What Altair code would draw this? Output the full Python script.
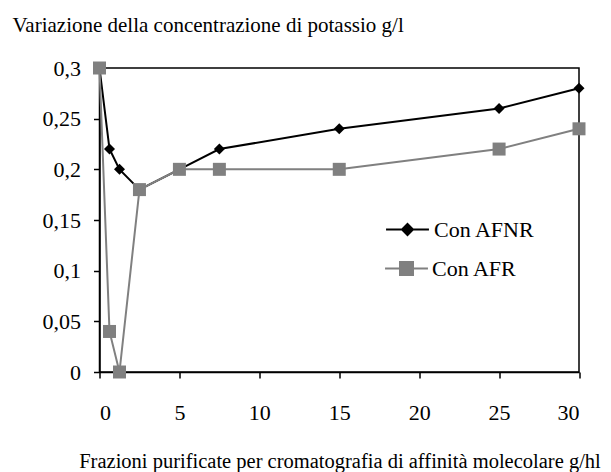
import altair as alt
import pandas as pd

x_vals = [0, 0.625, 1.25, 2.5, 5, 7.5, 15, 25, 30]
afnr = [0.30, 0.22, 0.20, 0.18, 0.20, 0.22, 0.24, 0.26, 0.28]
afr = [0.30, 0.04, 0.00, 0.18, 0.20, 0.20, 0.20, 0.22, 0.24]
series_names = ["Con AFNR", "Con AFR"]
x_ticks = [0, 5, 10, 15, 20, 25, 30]
y_ticks = [0, 0.05, 0.1, 0.15, 0.2, 0.25, 0.3]

FONT = "Liberation Serif"
BLACK = "#000000"
GRAY = "#808080"

df_a = pd.DataFrame({"x": x_vals, "y": afnr, "serie": series_names[0]})
df_b = pd.DataFrame({"x": x_vals, "y": afr, "serie": series_names[1]})

xenc = alt.X(
    "x:Q",
    scale=alt.Scale(domain=[0, 30], nice=False, zero=False),
    axis=alt.Axis(
        values=x_ticks,
        title="Frazioni purificate per cromatografia di affinità molecolare g/hl",
        titleX=240, titleY=95, titleAlign="center", titleBaseline="alphabetic",
        titleFontSize=20.5, titleFont=FONT,
        labelFont=FONT, labelFontSize=22,
        labelPadding=24,
    ),
)
yenc = alt.Y(
    "y:Q",
    scale=alt.Scale(domain=[0, 0.3], nice=False),
    axis=alt.Axis(
        values=y_ticks,
        labelExpr="replace(format(datum.value, '~g'), '.', ',')",
        title="Variazione della concentrazione di potassio g/l",
        titleAngle=0, titleX=-87.5, titleY=-37,
        titleAlign="left", titleBaseline="alphabetic",
        titleFontSize=21, titleFont=FONT,
        labelFont=FONT, labelFontSize=22,
        labelPadding=13,
    ),
)

line_a = alt.Chart(df_a).mark_line(color=BLACK, strokeWidth=2, clip=False).encode(x=xenc, y=yenc)
line_b = alt.Chart(df_b).mark_line(color=GRAY, strokeWidth=2, clip=False).encode(x=xenc, y=yenc)

pt_a = alt.Chart(df_a).mark_point(shape="diamond", filled=True, size=121, opacity=1, clip=False).encode(
    x=xenc, y=yenc,
    color=alt.Color(
        "serie:N",
        scale=alt.Scale(domain=[series_names[0]], range=[BLACK]),
        legend=alt.Legend(
            title=None, orient="none", legendX=297, legendY=150.5, padding=0,
            symbolType="M-3.9,0H3.9M0,-1L1,0L0,1L-1,0Z", symbolSize=121,
            symbolFillColor=BLACK, symbolStrokeColor=BLACK, symbolStrokeWidth=2,
            labelFont=FONT, labelFontSize=22, labelColor=BLACK, labelOffset=15.5,
        ),
    ),
)
pt_b = alt.Chart(df_b).mark_point(shape="square", filled=True, size=169, opacity=1, clip=False).encode(
    x=xenc, y=yenc,
    color=alt.Color(
        "serie:N",
        scale=alt.Scale(domain=[series_names[1]], range=[GRAY]),
        legend=alt.Legend(
            title=None, orient="none", legendX=296, legendY=189.5, padding=0,
            symbolType="M-3.3,0H3.3M-1,-1H1V1H-1Z", symbolSize=169,
            symbolFillColor=GRAY, symbolStrokeColor=GRAY, symbolStrokeWidth=2,
            labelFont=FONT, labelFontSize=22, labelColor=BLACK, labelOffset=14.5,
        ),
    ),
)

chart = (
    alt.layer(line_a, pt_a, line_b, pt_b)
    .resolve_scale(color="independent")
    .properties(
        width=479.5, height=304,
        autosize=alt.AutoSizeParams(type="none"),
        padding={"left": 91.5, "top": 60, "right": 24, "bottom": 100},
        background="white",
    )
    .configure_view(stroke=BLACK, strokeWidth=1.5)
    .configure_axis(
        grid=False,
        domainColor=BLACK, domainWidth=1.5,
        tickColor=BLACK, tickWidth=1.5, tickSize=6,
        labelFont=FONT, labelFontSize=22, labelColor=BLACK,
        titleFont=FONT, titleFontWeight="normal", titleColor=BLACK,
    )
)

chart.save("out.html", embed_options={"renderer": "svg", "actions": False})
